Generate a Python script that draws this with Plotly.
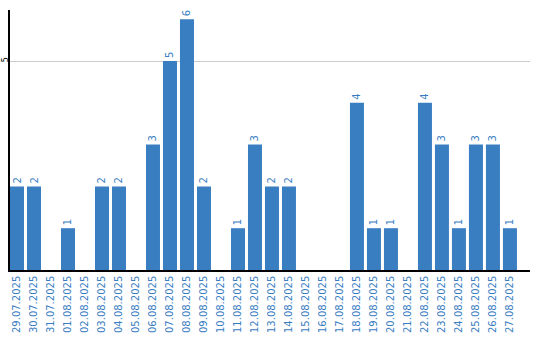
import plotly.graph_objects as go

dates = ["29.07.2025","30.07.2025","31.07.2025","01.08.2025","02.08.2025","03.08.2025",
         "04.08.2025","05.08.2025","06.08.2025","07.08.2025","08.08.2025","09.08.2025",
         "10.08.2025","11.08.2025","12.08.2025","13.08.2025","14.08.2025","15.08.2025",
         "16.08.2025","17.08.2025","18.08.2025","19.08.2025","20.08.2025","21.08.2025",
         "22.08.2025","23.08.2025","24.08.2025","25.08.2025","26.08.2025","27.08.2025"]
counts = [2,2,0,1,0,2,2,0,3,5,6,2,0,1,3,2,2,0,0,0,4,1,1,0,4,3,1,3,3,1]

blue = "#3a7ec2"
FONT = "DejaVu Sans"
labels = [str(v) if v > 0 else "" for v in counts]

fig = go.Figure(go.Bar(
    x=dates, y=counts, marker_color=blue, marker_line_width=0,
    text=labels, textposition="outside", textangle=-90,
    textfont=dict(color=blue, size=10, family=FONT),
    cliponaxis=False, hoverinfo="skip"))

fig.update_layout(
    width=540, height=340, margin=dict(l=10, r=10, t=10, b=70),
    paper_bgcolor="white", plot_bgcolor="white", bargap=0.176,
    showlegend=False, font=dict(family=FONT))
fig.update_xaxes(type="category", range=[-0.412, 30.18], tickangle=-90, automargin=False,
                 tickfont=dict(color=blue, size=10, family=FONT), showline=True, linecolor="black",
                 linewidth=1.5, showgrid=False, ticks="", ticklen=0)
fig.update_yaxes(range=[0, 6.22], tickvals=[5], ticktext=["5"], tickangle=-90, automargin=False,
                 ticklabelstandoff=-3,
                 tickfont=dict(color="black", size=8, family=FONT), showline=True, linecolor="black",
                 linewidth=1.5, showgrid=True, gridcolor="#cccccc", gridwidth=1,
                 zeroline=False, ticks="")

fig.write_html("out.html")
